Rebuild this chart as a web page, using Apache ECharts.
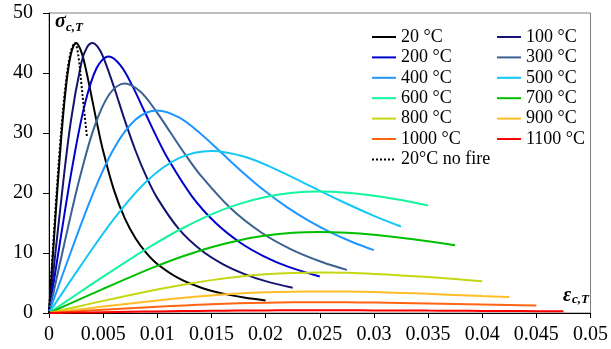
<!DOCTYPE html>
<html>
<head>
<meta charset="utf-8">
<script src="https://cdn.jsdelivr.net/npm/echarts@6/dist/echarts.min.js"></script>
<style>
  html, body { margin: 0; padding: 0; background: #fff; }
  #chart { width: 611px; height: 349px; }
</style>
</head>
<body>
<div id="chart"></div>
<script>
// strain (x) and stress (y, MPa)
const strain20 = [0, 0.0005, 0.001, 0.0015, 0.002, 0.0025, 0.003, 0.0035, 0.004, 0.0045, 0.005, 0.006, 0.007, 0.008, 0.009, 0.01, 0.012, 0.014, 0.016, 0.018, 0.02]
const stress20 = [0, 13.45, 26.16, 36.55, 42.99, 45, 43.45, 39.84, 35.43, 31.03, 27, 20.47, 15.78, 12.43, 9.99, 8.18, 5.76, 4.26, 3.27, 2.59, 2.1]

const strain100 = [0, 0.001, 0.002, 0.003, 0.0035, 0.004, 0.0045, 0.005, 0.006, 0.007, 0.008, 0.009, 0.01, 0.012, 0.014, 0.016, 0.018, 0.02, 0.0225]
const stress100 = [0, 16.74, 31.76, 41.8, 44.24, 45, 44.36, 42.69, 37.67, 32.1, 27, 22.68, 19.15, 13.97, 10.53, 8.18, 6.52, 5.31, 4.22]

const strain200 = [0, 0.0011, 0.0022, 0.0033, 0.0044, 0.0055, 0.0066, 0.0077, 0.0088, 0.0099, 0.011, 0.0132, 0.0154, 0.0176, 0.0198, 0.022, 0.025]
const stress200 = [0, 12.77, 24.85, 34.73, 40.84, 42.75, 41.28, 37.85, 33.66, 29.48, 25.65, 19.45, 14.99, 11.8, 9.49, 7.77, 6.08]

const strain300 = [0, 0.0014, 0.0028, 0.0042, 0.0056, 0.007, 0.0084, 0.0098, 0.0112, 0.0126, 0.014, 0.0168, 0.0196, 0.0224, 0.0252, 0.0275]
const stress300 = [0, 11.43, 22.24, 31.07, 36.54, 38.25, 36.94, 33.86, 30.12, 26.37, 22.95, 17.4, 13.41, 10.56, 8.49, 7.19]

const strain400 = [0, 0.002, 0.004, 0.006, 0.008, 0.01, 0.012, 0.014, 0.016, 0.018, 0.02, 0.022, 0.024, 0.026, 0.028, 0.03]
const stress400 = [0, 10.08, 19.62, 27.42, 32.24, 33.75, 32.59, 29.88, 26.57, 23.27, 20.25, 17.61, 15.36, 13.45, 11.84, 10.47]

const strain500 = [0, 0.003, 0.006, 0.009, 0.012, 0.015, 0.018, 0.021, 0.024, 0.027, 0.03, 0.0325]
const stress500 = [0, 8.07, 15.7, 21.93, 25.8, 27, 26.07, 23.9, 21.26, 18.62, 16.2, 14.42]

// 600..1100 °C share one strain grid, each curve stops at its own end
const strainHot = [0, 0.0025, 0.005, 0.0075, 0.01, 0.0125, 0.015, 0.0175, 0.02, 0.0225, 0.025, 0.0275, 0.03, 0.0325, 0.035, 0.0375, 0.04, 0.0425, 0.045, 0.0475]
const stress600 = [0, 3.04, 6.05, 8.99, 11.77, 14.29, 16.45, 18.15, 19.35, 20.03, 20.25, 20.06, 19.56, 18.82, 17.93]
const stress700 = [0, 2.02, 4.03, 5.99, 7.85, 9.53, 10.97, 12.1, 12.9, 13.36, 13.5, 13.37, 13.04, 12.54, 11.95, 11.3]
const stress800 = [0, 1.01, 2.02, 3.0, 3.92, 4.76, 5.48, 6.05, 6.45, 6.68, 6.75, 6.69, 6.52, 6.27, 5.98, 5.65, 5.31]
const stress900 = [0, 0.54, 1.08, 1.6, 2.09, 2.54, 2.92, 3.23, 3.44, 3.56, 3.6, 3.57, 3.48, 3.35, 3.19, 3.01, 2.83, 2.66]
const stress1000 = [0, 0.27, 0.54, 0.8, 1.05, 1.27, 1.46, 1.61, 1.72, 1.78, 1.8, 1.78, 1.74, 1.67, 1.59, 1.51, 1.42, 1.33, 1.24]
const stress1100 = [0, 0.07, 0.13, 0.2, 0.26, 0.32, 0.37, 0.4, 0.43, 0.45, 0.45, 0.45, 0.43, 0.42, 0.4, 0.38, 0.35, 0.33, 0.31, 0.29]

const strainNoFire = [0, 0.0005, 0.001, 0.0015, 0.002, 0.0024, 0.0027, 0.003, 0.0032, 0.0035]
const stressNoFire = [0, 14.5, 27.5, 37.5, 43.5, 45, 43, 38, 34.5, 29.5]

const names = ['20 °C', '100 °C', '200 °C', '300 °C', '400 °C', '500 °C', '600 °C', '700 °C', '800 °C', '900 °C', '1000 °C', '1100 °C']
const colors = ['#000000', '#14146e', '#0000cd', '#3b6191', '#1e96ff', '#14c8f5', '#14f5a0', '#00be00', '#c3d714', '#ffbe28', '#ff6414', '#ff0000']
const xTicks = [0, 0.005, 0.01, 0.015, 0.02, 0.025, 0.03, 0.035, 0.04, 0.045, 0.05]
const yTicks = [0, 10, 20, 30, 40, 50]

const curves = [
  [strain20, stress20], [strain100, stress100], [strain200, stress200],
  [strain300, stress300], [strain400, stress400], [strain500, stress500],
  [strainHot, stress600], [strainHot, stress700], [strainHot, stress800],
  [strainHot, stress900], [strainHot, stress1000], [strainHot, stress1100],
]

const pairs = (xs, ys) => ys.map((y, i) => [xs[i], y])
const serif = "'Liberation Serif', 'Times New Roman', serif"

const series = curves.map(([xs, ys], i) => ({
  name: names[i],
  type: 'line',
  data: pairs(xs, ys),
  symbol: 'none',
  smooth: 0.35,
  lineStyle: {color: colors[i], width: 2},
  itemStyle: {color: colors[i]},
}))
series.push({
  name: '20°C no fire',
  type: 'line',
  data: pairs(strainNoFire, stressNoFire),
  symbol: 'none',
  smooth: 0.35,
  z: 3,
  lineStyle: {color: '#000', width: 2, type: 'dotted'},
  itemStyle: {color: '#000'},
})

// legend: only the line, no round marker
const legendBase = {
  orient: 'vertical',
  top: 22,
  itemWidth: 24,
  itemHeight: 14,
  itemGap: 0.4,
  itemStyle: {opacity: 0},
  textStyle: {fontFamily: serif, fontSize: 18, color: '#000', lineHeight: 20},
}

const chart = echarts.init(document.getElementById('chart'))
chart.setOption({
  animation: false,
  backgroundColor: '#fff',
  grid: {
    left: 49, right: 18, top: 13, bottom: 36,
    show: true, borderColor: '#7f7f7f', borderWidth: 1,
  },
  legend: [
    {...legendBase, left: 366, data: names.filter((_, i) => i % 2 === 0).concat(['20°C no fire'])},
    {...legendBase, left: 491, data: names.filter((_, i) => i % 2 === 1)},
  ],
  xAxis: {
    type: 'value',
    min: xTicks[0],
    max: xTicks[xTicks.length - 1],
    interval: xTicks[1] - xTicks[0],
    axisLine: {lineStyle: {color: '#000', width: 1}},
    axisTick: {show: true, length: 5, lineStyle: {color: '#000'}},
    axisLabel: {fontFamily: serif, fontSize: 20, color: '#000', margin: 12},
    splitLine: {show: false},
  },
  yAxis: {
    type: 'value',
    min: yTicks[0],
    max: yTicks[yTicks.length - 1],
    interval: yTicks[1] - yTicks[0],
    axisLine: {show: true, lineStyle: {color: '#000', width: 1}},
    axisTick: {show: true, length: 6, lineStyle: {color: '#000'}},
    axisLabel: {fontFamily: serif, fontSize: 20, color: '#000', margin: 16},
    splitLine: {show: false},
  },
  graphic: [
    {type: 'text', left: 55, top: 12, style: {text: 'σ', font: 'italic bold 20px ' + serif, fill: '#000'}},
    {type: 'text', left: 66, top: 21, style: {text: 'c,T', font: 'italic bold 13px ' + serif, fill: '#000'}},
    {type: 'text', left: 563, top: 286, style: {text: 'ε', font: 'italic bold 20px ' + serif, fill: '#000'}},
    {type: 'text', left: 572, top: 293, style: {text: 'c,T', font: 'italic bold 13px ' + serif, fill: '#000'}},
  ],
  series: series,
})
</script>
</body>
</html>
